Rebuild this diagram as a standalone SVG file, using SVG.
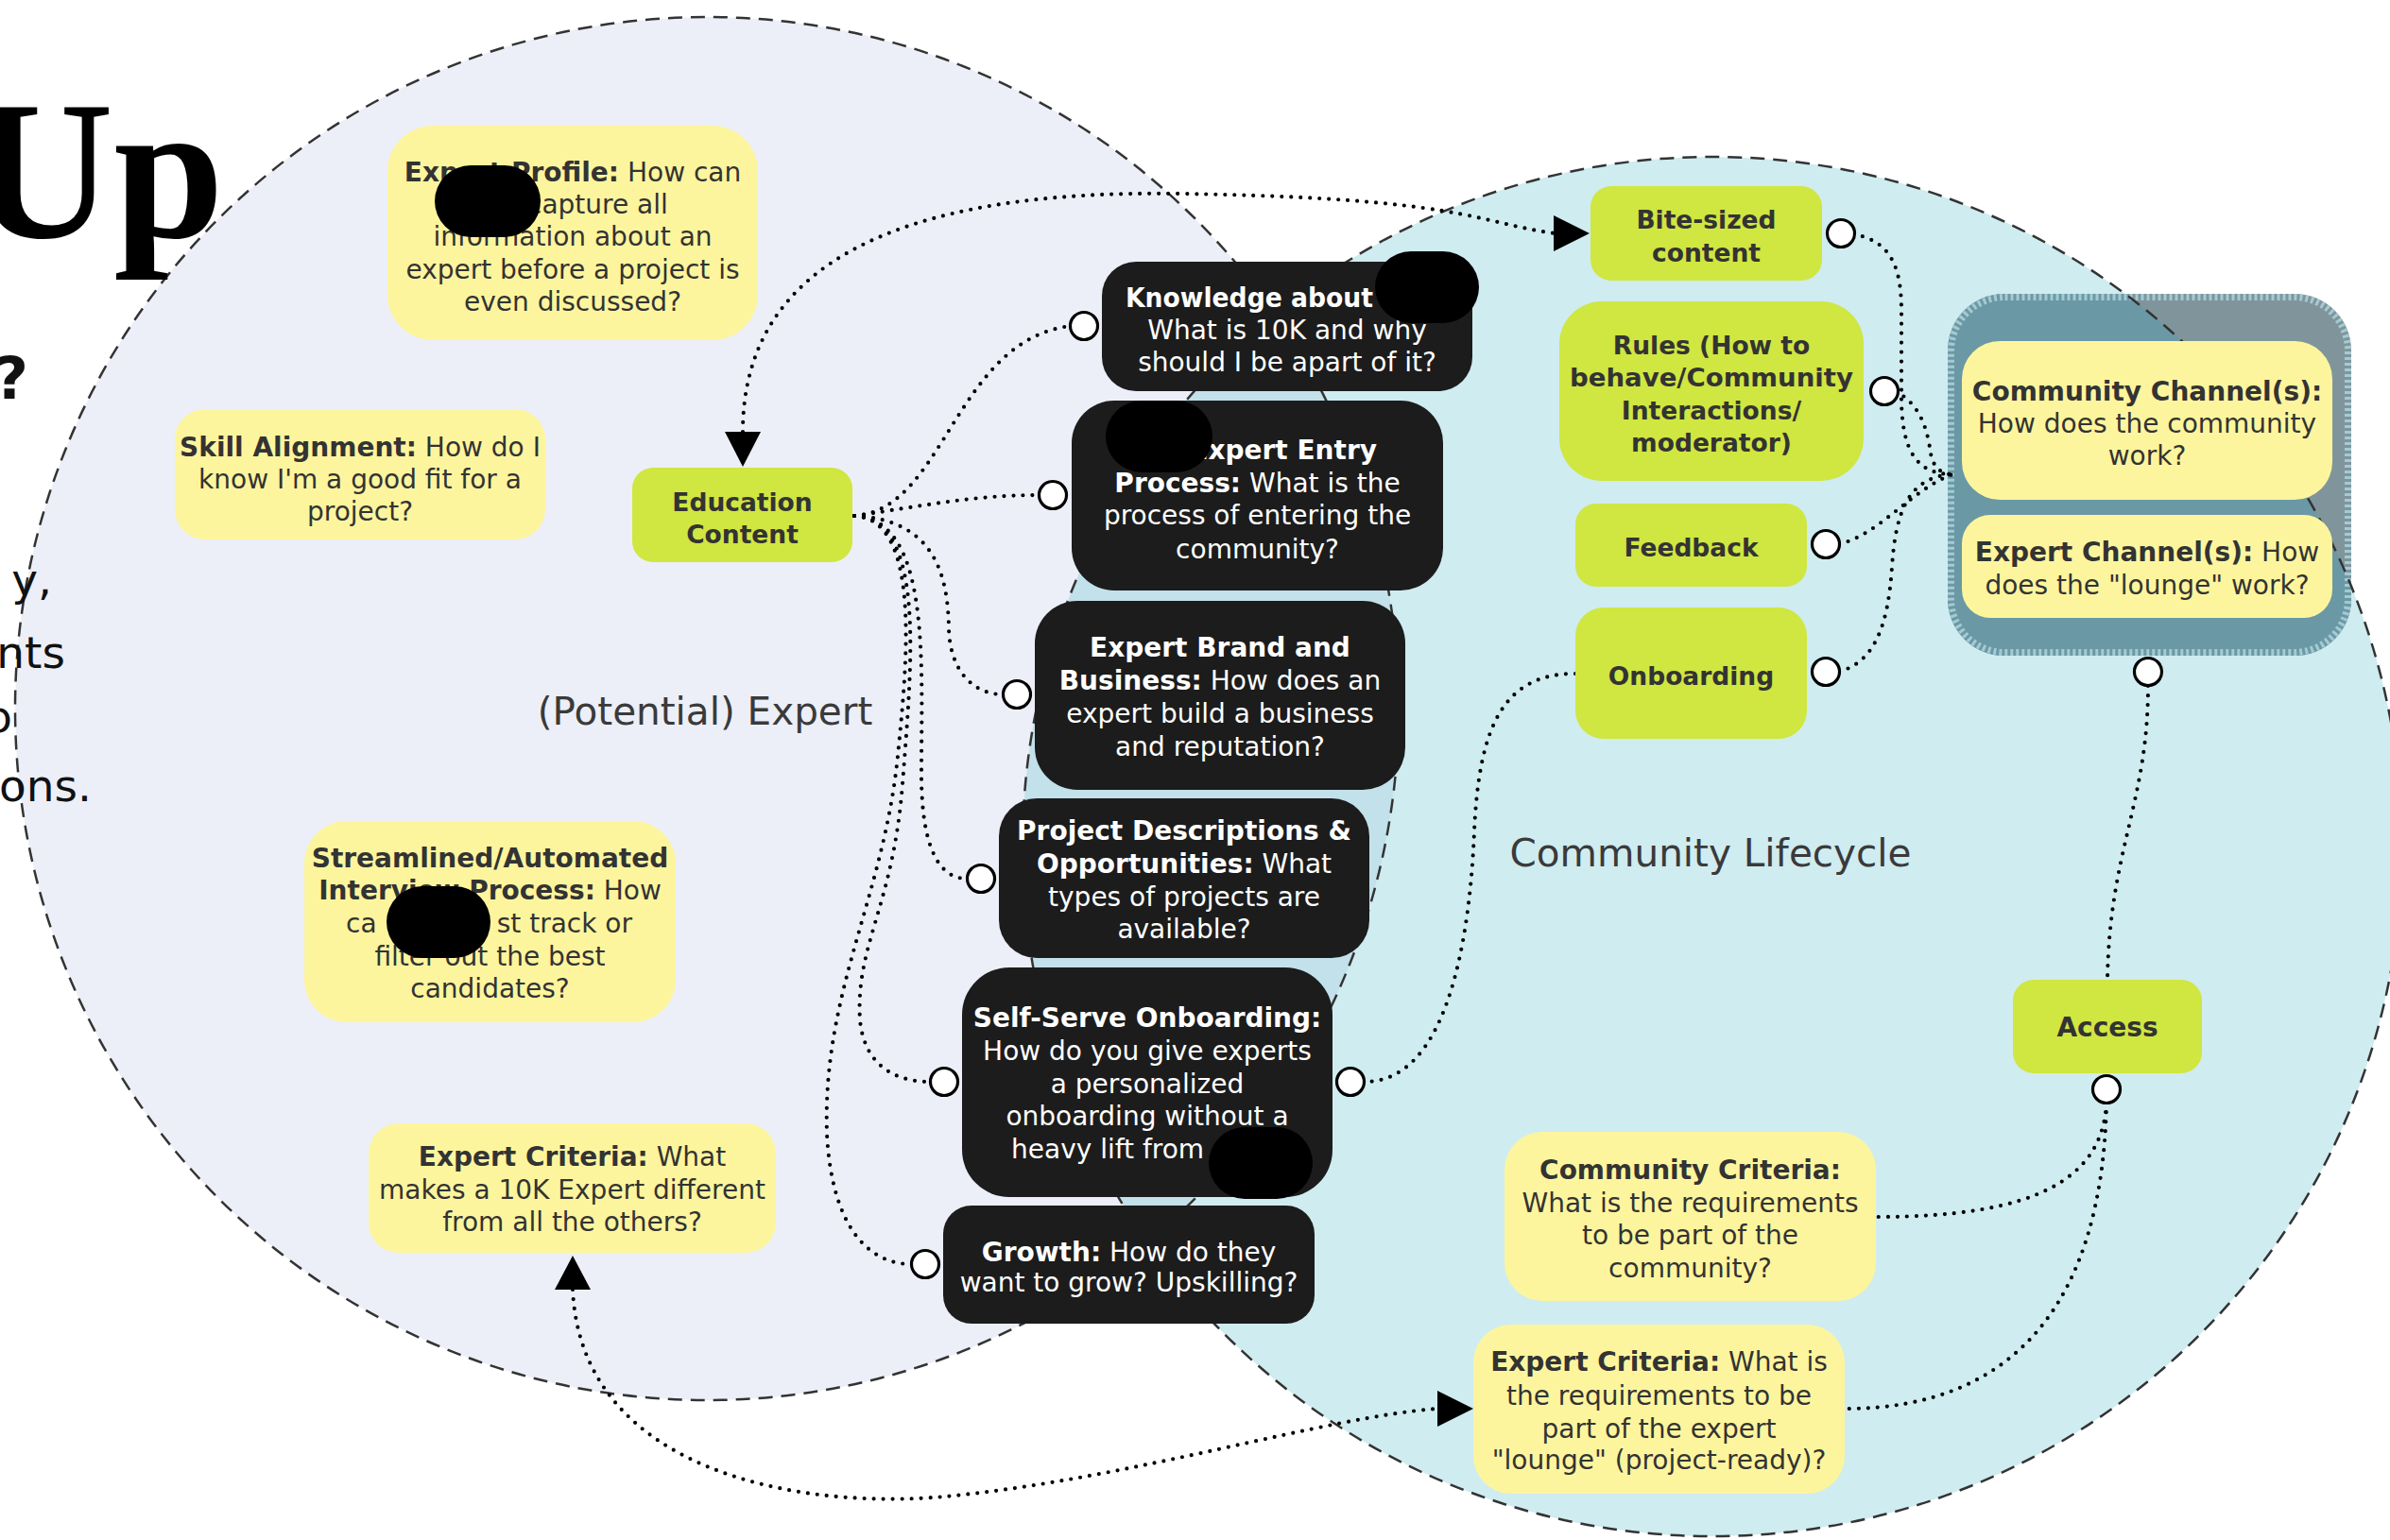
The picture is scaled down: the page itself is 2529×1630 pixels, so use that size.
<svg xmlns="http://www.w3.org/2000/svg" width="2529" height="1630" viewBox="0 0 2529 1630">
<defs>
<style>
.t{font-family:'DejaVu Sans',sans-serif;font-size:28px;fill:#333;text-anchor:middle}
.g{font-size:26.5px}
.t.s{text-anchor:start}
.t.e{text-anchor:end}
.w{fill:#fff}
.b{font-weight:700}
.yel{fill:#FDF59D}
.grn{fill:#D0E641}
.blk{fill:#1C1C1C}
.blob{fill:#000}
.dash{fill:none;stroke:#333;stroke-width:2.5;stroke-dasharray:15 9}
.dot{fill:none;stroke:#000;stroke-width:4.2;stroke-linecap:round;stroke-dasharray:0 10}
.port{fill:#fff;stroke:#000;stroke-width:3.2}
.arrow{fill:#000}
.lbl{font-family:'DejaVu Sans',sans-serif;font-size:40.5px;fill:#3a3a3a;text-anchor:middle}
.frag{font-family:'DejaVu Sans',sans-serif;font-size:47px;fill:#111;text-anchor:end}
</style>
<clipPath id="rc"><circle cx="1812" cy="896" r="730"/></clipPath>
</defs>
<rect width="2529" height="1630" fill="#fff"/>

<g id="backgrounds">
<circle cx="748" cy="750" r="732" fill="#ECEFF7"/>
<circle cx="1812" cy="896" r="730" fill="rgb(95,192,205)" fill-opacity="0.3"/>
</g>

<g id="container">
<rect x="2061" y="311" width="427" height="383" rx="60" fill="#80959B"/>
<rect x="2061" y="311" width="427" height="383" rx="60" fill="#6A99A5" clip-path="url(#rc)"/>
<rect x="2064.5" y="314.5" width="420" height="376" rx="57" fill="none" stroke="#A5CAD3" stroke-width="7" stroke-dasharray="3 3"/>
</g>

<g id="outlines">
<circle class="dash" cx="748" cy="750" r="732"/>
<circle class="dash" cx="1812" cy="896" r="730"/>
</g>

<g id="left-text">
<text x="237" y="251" font-family="'Liberation Serif',serif" font-weight="700" font-size="210" fill="#000" text-anchor="end">Up</text>
<text x="30" y="422" font-family="'DejaVu Sans',sans-serif" font-weight="700" font-size="62" fill="#111" text-anchor="end">?</text>
<text class="frag" x="55" y="630">y,</text>
<text class="frag" x="69" y="707">nts</text>
<text class="frag" x="13" y="775">o</text>
<text class="frag" x="97" y="848">ons.</text>
<text class="lbl" x="746" y="767">(Potential) Expert</text>
<text class="lbl" x="1810" y="917">Community Lifecycle</text>
</g>

<g id="connectors">
<path class="dot" d="M786 457 C786 280 950 200 1250 205 S1560 235 1645 247"/>
<path class="dot" d="M904 546 C1000 540 1010 360 1133 345"/>
<path class="dot" d="M904 546 C980 535 1030 524 1100 524"/>
<path class="dot" d="M904 546 C990 550 1003 610 1004 665 C1005 710 1030 735 1061 735"/>
<path class="dot" d="M904 546 C985 550 975 700 975 820 C975 900 995 930 1023 930"/>
<path class="dot" d="M904 546 C980 550 965 700 955 830 C945 960 905 1000 910 1080 C915 1130 950 1145 984 1145"/>
<path class="dot" d="M904 546 C975 550 960 700 950 800 C935 950 870 1050 875 1200 C880 1300 920 1338 964 1338"/>
<path class="dot" d="M1961 248 C2005 255 2012 290 2012 330 L2012 420 C2012 480 2030 502 2066 502"/>
<path class="dot" d="M2006 414 C2035 430 2040 460 2043 480 C2046 496 2055 502 2066 502"/>
<path class="dot" d="M1946 576 C1990 565 2020 520 2066 502"/>
<path class="dot" d="M1946 711 C1985 700 1998 660 2002 600 C2006 540 2020 505 2066 502"/>
<path class="dot" d="M1667 713 C1590 713 1565 770 1560 880 C1555 1000 1530 1145 1444 1145"/>
<path class="dot" d="M2273 726 C2273 850 2232 900 2230 1037"/>
<path class="dot" d="M2229 1167 C2225 1250 2150 1288 1987 1288"/>
<path class="dot" d="M2229 1167 C2225 1380 2130 1491 1953 1491"/>
<path class="dot" d="M606 1365 C615 1560 850 1598 1000 1584 C1200 1565 1400 1500 1521 1491"/>
<polygon class="arrow" points="767,457 805,457 786,494"/>
<polygon class="arrow" points="1644,228 1644,266 1682,247"/>
<polygon class="arrow" points="587,1365 625,1365 606,1329"/>
<polygon class="arrow" points="1521,1472 1521,1510 1559,1491"/>
</g>

<g id="expert-profile">
<rect class="yel" x="410" y="133" width="392" height="227" rx="48"/>
<text class="t" x="606" y="192"><tspan class="b">Expert Profile:</tspan> How can</text>
<text class="t s" x="558" y="226">capture all</text>
<text class="t" x="606" y="260">information about an</text>
<text class="t" x="606" y="295">expert before a project is</text>
<text class="t" x="606" y="329">even discussed?</text>
<rect class="blob" x="460" y="175" width="112" height="76" rx="38"/>
</g>

<g id="skill-alignment">
<rect class="yel" x="185" y="433" width="392" height="138" rx="32"/>
<text class="t" x="381" y="483"><tspan class="b">Skill Alignment:</tspan> How do I</text>
<text class="t" x="381" y="517">know I'm a good fit for a</text>
<text class="t" x="381" y="551">project?</text>
</g>

<g id="education-content">
<rect class="grn" x="669" y="495" width="233" height="100" rx="22"/>
<text class="t g b" x="785.5" y="541">Education</text>
<text class="t g b" x="785.5" y="575">Content</text>
</g>

<g id="streamlined">
<rect class="yel" x="322" y="869" width="393" height="213" rx="45"/>
<text class="t b" x="518.5" y="918">Streamlined/Automated</text>
<text class="t" x="518.5" y="952"><tspan class="b">Interview Process:</tspan> How</text>
<text class="t s" x="366" y="987">ca</text>
<text class="t e" x="669" y="987">st track or</text>
<text class="t" x="518.5" y="1022">filter out the best</text>
<text class="t" x="518.5" y="1056">candidates?</text>
<rect class="blob" x="409" y="938" width="110" height="76" rx="38"/>
</g>

<g id="expert-criteria-left">
<rect class="yel" x="390" y="1189" width="431" height="137" rx="32"/>
<text class="t" x="605.5" y="1234"><tspan class="b">Expert Criteria:</tspan> What</text>
<text class="t" x="605.5" y="1269">makes a 10K Expert different</text>
<text class="t" x="605.5" y="1303">from all the others?</text>
</g>

<g id="knowledge">
<rect class="blk" x="1166" y="277" width="392" height="137" rx="36"/>
<text class="t s w b" x="1191" y="325" textLength="262" lengthAdjust="spacingAndGlyphs">Knowledge about</text>
<text class="t w" x="1362" y="359">What is 10K and why</text>
<text class="t w" x="1362" y="393">should I be apart of it?</text>
<rect class="blob" x="1455" y="266" width="110" height="76" rx="38"/>
</g>

<g id="expert-entry">
<rect class="blk" x="1134" y="424" width="393" height="201" rx="45"/>
<text class="t e w b" x="1457" y="486">Expert Entry</text>
<text class="t w" x="1330.5" y="521"><tspan class="b">Process:</tspan> What is the</text>
<text class="t w" x="1330.5" y="555">process of entering the</text>
<text class="t w" x="1330.5" y="591">community?</text>
<rect class="blob" x="1170" y="424" width="113" height="76" rx="38"/>
</g>

<g id="expert-brand">
<rect class="blk" x="1095" y="636" width="392" height="200" rx="45"/>
<text class="t w b" x="1291" y="695">Expert Brand and</text>
<text class="t w" x="1291" y="730"><tspan class="b">Business:</tspan> How does an</text>
<text class="t w" x="1291" y="765">expert build a business</text>
<text class="t w" x="1291" y="800">and reputation?</text>
</g>

<g id="project-descriptions">
<rect class="blk" x="1057" y="845" width="392" height="169" rx="40"/>
<text class="t w b" x="1253" y="889">Project Descriptions &amp;</text>
<text class="t w" x="1253" y="924"><tspan class="b">Opportunities:</tspan> What</text>
<text class="t w" x="1253" y="959">types of projects are</text>
<text class="t w" x="1253" y="993">available?</text>
</g>

<g id="self-serve">
<rect class="blk" x="1018" y="1024" width="392" height="243" rx="50"/>
<text class="t w b" x="1214" y="1087">Self-Serve Onboarding:</text>
<text class="t w" x="1214" y="1122">How do you give experts</text>
<text class="t w" x="1214" y="1157">a personalized</text>
<text class="t w" x="1214" y="1191">onboarding without a</text>
<text class="t s w" x="1070" y="1226">heavy lift from</text>
<rect class="blob" x="1279" y="1193" width="110" height="76" rx="38"/>
</g>

<g id="growth">
<rect class="blk" x="998" y="1276" width="393" height="125" rx="30"/>
<text class="t w" x="1194.5" y="1335"><tspan class="b">Growth:</tspan> How do they</text>
<text class="t w" x="1194.5" y="1367">want to grow? Upskilling?</text>
</g>

<g id="bite-sized">
<rect class="grn" x="1683" y="197" width="245" height="100" rx="22"/>
<text class="t g b" x="1805.5" y="242">Bite-sized</text>
<text class="t g b" x="1805.5" y="277">content</text>
</g>

<g id="rules">
<rect class="grn" x="1650" y="319" width="322" height="190" rx="45"/>
<text class="t g b" x="1811" y="375">Rules (How to</text>
<text class="t g b" x="1811" y="409" textLength="300" lengthAdjust="spacingAndGlyphs">behave/Community</text>
<text class="t g b" x="1811" y="444">Interactions/</text>
<text class="t g b" x="1811" y="478">moderator)</text>
</g>

<g id="feedback">
<rect class="grn" x="1667" y="533" width="245" height="88" rx="22"/>
<text class="t g b" x="1789.5" y="589">Feedback</text>
</g>

<g id="onboarding">
<rect class="grn" x="1667" y="643" width="245" height="139" rx="30"/>
<text class="t g b" x="1789.5" y="725">Onboarding</text>
</g>

<g id="community-channel">
<rect class="yel" x="2076" y="361" width="392" height="168" rx="40"/>
<text class="t b" x="2272" y="424">Community Channel(s):</text>
<text class="t" x="2272" y="458">How does the community</text>
<text class="t" x="2272" y="492">work?</text>
</g>

<g id="expert-channel">
<rect class="yel" x="2076" y="545" width="392" height="109" rx="30"/>
<text class="t" x="2272" y="594"><tspan class="b">Expert Channel(s):</tspan> How</text>
<text class="t" x="2272" y="629">does the "lounge" work?</text>
</g>

<g id="access">
<rect class="grn" x="2130" y="1037" width="200" height="99" rx="22"/>
<text class="t b" x="2230" y="1097">Access</text>
</g>

<g id="community-criteria">
<rect class="yel" x="1592" y="1198" width="393" height="179" rx="40"/>
<text class="t b" x="1788.5" y="1248">Community Criteria:</text>
<text class="t" x="1788.5" y="1283">What is the requirements</text>
<text class="t" x="1788.5" y="1317">to be part of the</text>
<text class="t" x="1788.5" y="1352">community?</text>
</g>

<g id="expert-criteria-right">
<rect class="yel" x="1559" y="1402" width="393" height="179" rx="40"/>
<text class="t" x="1755.5" y="1451"><tspan class="b">Expert Criteria:</tspan> What is</text>
<text class="t" x="1755.5" y="1487">the requirements to be</text>
<text class="t" x="1755.5" y="1522">part of the expert</text>
<text class="t" x="1755.5" y="1555">"lounge" (project-ready)?</text>
</g>

<g id="ports">
<circle class="port" cx="1147" cy="345" r="14.5"/>
<circle class="port" cx="1114" cy="524" r="14.5"/>
<circle class="port" cx="1076" cy="735" r="14.5"/>
<circle class="port" cx="1038" cy="930" r="14.5"/>
<circle class="port" cx="999" cy="1145" r="14.5"/>
<circle class="port" cx="1429" cy="1145" r="14.5"/>
<circle class="port" cx="979" cy="1338" r="14.5"/>
<circle class="port" cx="1948" cy="247" r="14.5"/>
<circle class="port" cx="1994" cy="414" r="14.5"/>
<circle class="port" cx="1932" cy="576" r="14.5"/>
<circle class="port" cx="1932" cy="711" r="14.5"/>
<circle class="port" cx="2273" cy="711" r="14.5"/>
<circle class="port" cx="2229" cy="1153" r="14.5"/>
</g>
</svg>
